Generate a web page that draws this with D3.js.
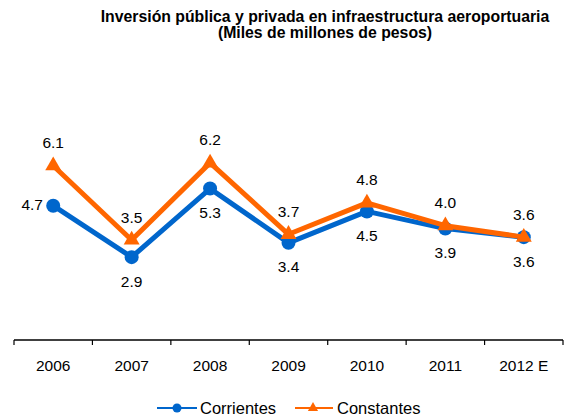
<!DOCTYPE html>
<html>
<head>
<meta charset="utf-8">
<script src="https://cdn.jsdelivr.net/npm/d3@7"></script>
<style>
  body { margin: 0; background: #fff; }
  svg { display: block; font-family: "Liberation Sans", Arial, sans-serif; }
</style>
</head>
<body>
<div id="chart"></div>
<script>
const FRAME_WIDTH = 564;
const FRAME_HEIGHT = 419;

// data
const YEARS = ["2006", "2007", "2008", "2009", "2010", "2011", "2012 E"];
const CORRIENTES = [4.7, 2.9, 5.3, 3.4, 4.5, 3.9, 3.6];
const CONSTANTES = [6.1, 3.5, 6.2, 3.7, 4.8, 4.0, 3.6];
// where each data label sits relative to its point
const CORR_LABEL_POS = ["left", "below", "below", "below", "below", "below", "above"];
const CONS_LABEL_POS = ["above", "above", "above", "above", "above", "above", "below"];

const BLUE = "#0066cc";
const ORANGE = "#ff6600";

const AXIS_Y = 340;

const svg = d3.select("#chart")
  .append("svg")
    .attr("width", FRAME_WIDTH)
    .attr("height", FRAME_HEIGHT);

// title
svg.append("text")
  .attr("x", 325)
  .attr("y", 22)
  .attr("text-anchor", "middle")
  .attr("font-weight", "bold")
  .attr("font-size", "15.8px")
  .text("Inversión pública y privada en infraestructura aeroportuaria");
svg.append("text")
  .attr("x", 325)
  .attr("y", 38)
  .attr("text-anchor", "middle")
  .attr("font-weight", "bold")
  .attr("font-size", "15.8px")
  .text("(Miles de millones de pesos)");

const X_SCALE = d3.scaleBand()
  .domain(YEARS)
  .range([14, 563]);

const Y_SCALE = d3.scaleLinear()
  .domain([0, 7])
  .range([AXIS_Y, 140]);

const cx = (i) => X_SCALE(YEARS[i]) + X_SCALE.bandwidth() / 2;

// x axis
const xAxis = svg.append("g")
  .attr("transform", "translate(0," + AXIS_Y + ")")
  .call(d3.axisBottom(X_SCALE).tickSize(0).tickPadding(0));
xAxis.select(".domain").remove();
xAxis.selectAll("text")
  .attr("font-size", "15.5px")
  .attr("font-family", "Liberation Sans, Arial, sans-serif")
  .attr("fill", "#000")
  .attr("y", 31)
  .attr("dy", 0);

svg.append("line")
  .attr("x1", X_SCALE.range()[0])
  .attr("x2", X_SCALE.range()[1])
  .attr("y1", AXIS_Y)
  .attr("y2", AXIS_Y)
  .attr("stroke", "#000")
  .attr("stroke-width", 1.5);

// tick marks between categories
const edges = YEARS.map((d) => X_SCALE(d)).concat([X_SCALE.range()[1]]);
svg.selectAll(".tick-mark")
  .data(edges)
  .enter()
  .append("line")
    .attr("class", "tick-mark")
    .attr("x1", (d) => d)
    .attr("x2", (d) => d)
    .attr("y1", AXIS_Y)
    .attr("y2", AXIS_Y + 5)
    .attr("stroke", "#000")
    .attr("stroke-width", 1.2);

const line = d3.line()
  .x((d, i) => cx(i))
  .y((d) => Y_SCALE(d));

// corrientes
svg.append("path")
  .datum(CORRIENTES)
  .attr("d", line)
  .attr("fill", "none")
  .attr("stroke", BLUE)
  .attr("stroke-width", 5)
  .attr("stroke-linejoin", "round");

svg.selectAll(".pt-corr")
  .data(CORRIENTES)
  .enter()
  .append("circle")
    .attr("class", "pt-corr")
    .attr("cx", (d, i) => cx(i))
    .attr("cy", (d) => Y_SCALE(d))
    .attr("r", 7)
    .attr("fill", BLUE);

// constantes
svg.append("path")
  .datum(CONSTANTES)
  .attr("d", line)
  .attr("fill", "none")
  .attr("stroke", ORANGE)
  .attr("stroke-width", 5)
  .attr("stroke-linejoin", "round");

const tri = d3.symbol().type(d3.symbolTriangle).size(110);
svg.selectAll(".pt-cons")
  .data(CONSTANTES)
  .enter()
  .append("path")
    .attr("class", "pt-cons")
    .attr("d", tri)
    .attr("transform", (d, i) => "translate(" + cx(i) + "," + Y_SCALE(d) + ")")
    .attr("fill", ORANGE);

// data labels
function addLabels(values, positions, cls) {
  svg.selectAll("." + cls)
    .data(values)
    .enter()
    .append("text")
      .attr("class", cls)
      .attr("font-size", "15.5px")
      .attr("text-anchor", "middle")
      .attr("dominant-baseline", "central")
      .attr("x", (d, i) => positions[i] == "left" ? cx(i) - 21 : cx(i))
      .attr("y", (d, i) => {
        const y = Y_SCALE(d);
        if (positions[i] == "above") return y - 23;
        if (positions[i] == "below") return y + 24;
        return y - 1;
      })
      .text((d) => d.toFixed(1));
}
addLabels(CORRIENTES, CORR_LABEL_POS, "lab-corr");
addLabels(CONSTANTES, CONS_LABEL_POS, "lab-cons");

// legend
const LEG_Y = 408;
const legend = svg.append("g");
legend.append("line")
  .attr("x1", 157).attr("x2", 197)
  .attr("y1", LEG_Y).attr("y2", LEG_Y)
  .attr("stroke", BLUE).attr("stroke-width", 2);
legend.append("circle")
  .attr("cx", 177).attr("cy", LEG_Y).attr("r", 4.5)
  .attr("fill", BLUE);
legend.append("text")
  .attr("x", 200).attr("y", LEG_Y)
  .attr("dominant-baseline", "central")
  .attr("font-size", "16.5px")
  .text("Corrientes");

legend.append("line")
  .attr("x1", 295).attr("x2", 333)
  .attr("y1", LEG_Y).attr("y2", LEG_Y)
  .attr("stroke", ORANGE).attr("stroke-width", 2);
legend.append("path")
  .attr("d", d3.symbol().type(d3.symbolTriangle).size(45))
  .attr("transform", "translate(313," + LEG_Y + ")")
  .attr("fill", ORANGE);
legend.append("text")
  .attr("x", 337).attr("y", LEG_Y)
  .attr("dominant-baseline", "central")
  .attr("font-size", "16.5px")
  .text("Constantes");
</script>
</body>
</html>
